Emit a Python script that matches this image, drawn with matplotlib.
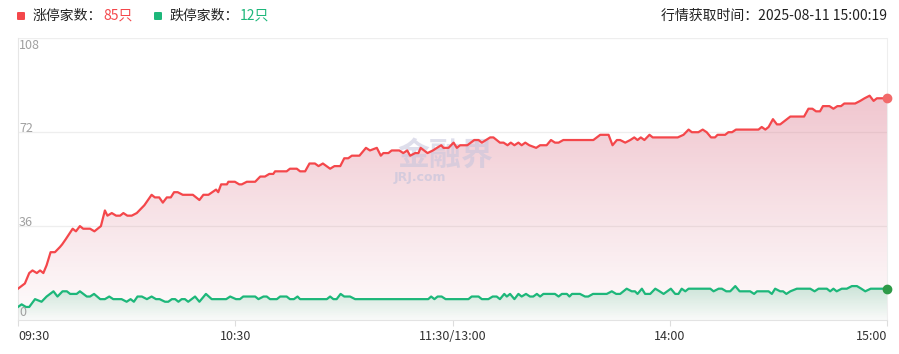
import numpy as np
import matplotlib
matplotlib.use("Agg")
import matplotlib.pyplot as plt
from matplotlib.patches import FancyBboxPatch

plt.rcParams["font.family"] = ["Noto Sans CJK SC", "DejaVu Sans"]
plt.rcParams["axes.unicode_minus"] = False

# minutes since 09:30 (trading minutes, lunch break removed) and counts
UP_T = [0, 1.9, 3.1, 4.0, 5.2, 6.1, 7.0, 7.9, 9.0, 10.2, 11.6, 12.2, 13.2, 15.1, 16.0, 17.1, 18.0,
        19.9, 21.1, 22.9, 24.0, 24.7, 25.9, 27.1, 28.2, 29.1, 30.2, 31.4, 32.8, 34.9, 36.9, 37.8,
        39.0, 40.0, 41.1, 42.2, 43.1, 44.1, 45.5, 48.3, 50.1, 51.2, 52.6, 54.7, 55.3, 56.1, 57.7,
        58.1, 59.9, 61.1, 61.8, 63.2, 65.5, 66.9, 68.2, 69.4, 70.5, 71.0, 74.2, 75.1, 77.0, 77.9,
        79.3, 80.5, 82.0, 83.0, 84.2, 86.2, 87.4, 89.0, 90.1, 91.2, 92.2, 94.3, 96.1, 97.2, 99.1,
        100.2, 100.9, 102.3, 103.2, 105.3, 106.4, 107.5, 108.3, 109.7, 110.6, 111.2, 113.1, 114.6,
        115.7, 116.9, 117.5, 118.9, 120.3, 121.2, 122.1, 124.1, 126.0, 127.2, 128.1, 130.4, 131.3,
        133.1, 134.1, 135.2, 136.1, 137.1, 138.2, 139.1, 140.1, 141.2, 143.1, 144.2, 146.0, 147.2,
        148.3, 149.3, 150.6, 158.9, 160.8, 161.7, 163.1, 164.2, 165.4, 166.3, 167.7, 169.1, 170.2,
        171.1, 172.0, 173.0, 174.4, 175.3, 182.2, 183.8, 185.2, 186.1, 187.9, 189.1, 190.2, 191.4,
        192.5, 193.2, 195.3, 196.2, 197.2, 198.3, 204.5, 205.4, 206.4, 207.3, 208.5, 209.6, 210.5,
        213.3, 217.1, 218.3, 219.4, 220.4, 221.5, 222.3, 224.1, 225.2, 226.3, 227.3, 228.2, 231.2,
        232.6, 233.8, 235.2, 236.3, 237.2, 240]
UP_V = [12, 14, 18, 19, 18, 19, 18, 21, 26, 26, 28, 29, 31, 35, 34, 36, 35,
        35, 34, 36, 42, 40, 41, 40, 40, 41, 40, 40, 41, 44, 48, 47,
        47, 45, 47, 47, 49, 49, 48, 48, 46, 48, 48, 50, 49, 52, 52,
        53, 53, 52, 52, 53, 53, 55, 55, 56, 56, 57, 57, 58, 58, 57,
        57, 60, 60, 59, 60, 58, 59, 59, 62, 62, 63, 63, 66, 65, 66,
        63, 64, 64, 65, 65, 64, 65, 63, 64, 64, 66, 64, 65,
        66, 67, 66, 66, 68, 66, 67, 67, 69, 69, 68, 70, 70,
        68, 68, 67, 68, 67, 68, 67, 68, 67, 66, 67, 67, 69,
        68, 68, 69, 69, 71, 71, 71, 67, 69, 69, 68, 69, 70,
        69, 70, 69, 71, 70, 70, 71, 73, 72, 72, 73, 72, 70,
        70, 71, 71, 72, 72, 73, 73, 74, 73, 74, 77, 75, 75,
        78, 78, 81, 81, 80, 80, 82, 82, 81, 82, 82, 83, 83,
        84, 85, 86, 84, 85, 85]

DOWN_T = [0, 1.0, 2.2, 3.1, 4.7, 6.5, 7.9, 9.8, 10.9, 12.3, 13.5, 14.4, 16.2, 17.1, 19.0, 19.9,
          21.0, 22.7, 24.0, 25.2, 26.3, 28.6, 30.0, 31.1, 32.0, 33.0, 34.2, 35.6, 36.9, 38.1, 39.1,
          40.6, 41.5, 42.5, 43.4, 44.3, 45.2, 46.1, 47.0, 48.9, 50.1, 51.9, 53.5, 57.5, 58.6, 60.2,
          61.3, 62.2, 65.5, 66.4, 67.8, 68.7, 69.6, 71.5, 72.4, 74.2, 75.1, 76.2, 77.2, 77.9, 85.3,
          86.2, 87.1, 88.0, 89.1, 90.1, 91.7, 93.1, 113.3, 114.1, 115.0, 115.9, 117.0, 118.1, 124.4,
          125.3, 127.2, 128.1, 129.9, 131.1, 132.2, 133.1, 134.3, 135.0, 135.9, 137.1, 138.2, 139.1,
          140.3, 141.4, 142.3, 143.3, 144.2, 145.1, 148.3, 149.3, 150.2, 151.6, 152.3, 153.0, 155.2,
          156.6, 157.5, 158.8, 160.8, 162.6, 164.0, 165.2, 166.3, 168.1, 169.5, 170.4, 171.1, 172.3,
          173.2, 174.6, 176.0, 177.2, 178.3, 180.3, 181.5, 182.4, 183.3, 184.3, 185.2, 191.2, 192.1,
          193.5, 194.4, 195.6, 196.7, 198.1, 199.3, 202.2, 203.3, 204.1, 207.3, 208.2, 209.1, 210.5,
          211.3, 212.2, 213.3, 215.1, 218.8, 220.0, 221.1, 223.4, 224.3, 225.2, 226.1, 227.5, 228.9,
          230.3, 231.7, 232.9, 234.0, 235.5, 240]
DOWN_V = [5, 6, 5, 5, 8, 7, 9, 11, 9, 11, 11, 10, 10, 11, 9, 9,
          10, 8, 8, 9, 8, 8, 7, 8, 7, 9, 9, 8, 9, 8, 8,
          7, 7, 8, 8, 7, 8, 8, 7, 9, 7, 10, 8, 8, 9, 8,
          8, 9, 9, 8, 9, 9, 8, 8, 9, 9, 8, 8, 9, 8, 8,
          9, 8, 8, 10, 9, 9, 8, 8, 9, 8, 9, 9, 8, 8,
          9, 9, 8, 8, 9, 9, 8, 10, 9, 10, 8, 10, 9,
          10, 9, 9, 10, 9, 10, 10, 9, 10, 10, 9, 10, 10,
          9, 9, 10, 10, 10, 11, 10, 10, 12, 11, 11, 10, 12,
          10, 10, 12, 11, 10, 12, 10, 10, 12, 11, 12, 12, 11,
          12, 12, 11, 11, 13, 11, 11, 10, 11, 11, 10, 12, 11,
          11, 10, 11, 12, 12, 11, 12, 12, 11, 12, 11, 12, 12,
          13, 13, 12, 11, 12, 12]

X_TICKS = [0, 60, 120, 180, 240]
X_LABELS = ["09:30", "10:30", "11:30/13:00", "14:00", "15:00"]
Y_TICKS = [0, 36, 72, 108]

UP_COLOR = "#f4474b"
DOWN_COLOR = "#1db77a"
UP_FILL = (0.86, 0.47, 0.55)
DOWN_FILL = (0.12, 0.67, 0.43)


def gradient_fill(ax, t, v, rgb, a_top, a_bottom, zorder):
    poly = ax.fill_between(t, v, 0, facecolor="none", linewidth=0)
    img = np.zeros((256, 1, 4))
    img[:, 0, :3] = rgb
    img[:, 0, 3] = np.linspace(a_top, a_bottom, 256)
    im = ax.imshow(img, extent=[t[0], t[-1], 0, max(v)], origin="upper",
                   aspect="auto", zorder=zorder, interpolation="bilinear")
    im.set_clip_path(poly.get_paths()[0], transform=ax.transData)


fig = plt.figure(figsize=(8.99, 3.54), dpi=100)
fig.patch.set_facecolor("white")
ax = fig.add_axes([18 / 899, 1 - 320 / 354, 869 / 899, (320 - 38.3) / 354])
ax.set_facecolor("white")

gradient_fill(ax, UP_T, UP_V, UP_FILL, 0.42, 0.02, 1)
gradient_fill(ax, DOWN_T, DOWN_V, DOWN_FILL, 0.22, 0.02, 2)

ax.plot(UP_T, UP_V, color=UP_COLOR, linewidth=1.6, zorder=4, solid_joinstyle="round")
ax.plot(DOWN_T, DOWN_V, color=DOWN_COLOR, linewidth=1.6, zorder=4, solid_joinstyle="round")
ax.plot([UP_T[-1]], [UP_V[-1]], "o", color="#f26a6a", markersize=6, zorder=5, clip_on=False)
ax.plot([DOWN_T[-1]], [DOWN_V[-1]], "o", color="#2e9a48", markersize=6, zorder=5, clip_on=False)

# faint watermark
ax.text(118, 63, "金融界", fontsize=23, fontweight="bold", color="#c4c4dc", alpha=0.55,
        ha="center", va="center", zorder=3)
ax.text(111, 54.5, "JRJ.com", fontsize=9, fontweight="bold", color="#c4c4dc", alpha=0.65,
        ha="center", va="center", zorder=3, family="DejaVu Sans")

ax.set_xlim(0, 240)
ax.set_ylim(0, 108)
for y in Y_TICKS[1:]:
    ax.axhline(y, color="#eeeeee", linewidth=0.9, zorder=0)

ax.spines["top"].set_visible(False)
ax.spines["left"].set_color("#e6e6e6")
ax.spines["right"].set_color("#eeeeee")
ax.spines["bottom"].set_color("#e3e3e3")

ax.set_yticks([])
ax.set_xticks(X_TICKS)
ax.set_xticklabels(X_LABELS)
ax.tick_params(axis="x", length=4, color="#dddddd", labelsize=9, labelcolor="#333333", pad=3)
labels = ax.get_xticklabels()
labels[0].set_ha("left")
labels[-1].set_ha("right")

# y labels inside the plot
y_va = {0: "bottom", 36: "center", 72: "center", 108: "top"}
for y in Y_TICKS:
    ax.text(0.3, y + (1.5 if y in (36, 72) else (0.5 if y == 0 else -0.3)), str(y),
            fontsize=9, color="#a0a0a0", ha="left", va=y_va[y], zorder=6)


# header
def px(x, y):
    return x / 899, 1 - y / 354


for x0, col in [(17, UP_COLOR), (154, DOWN_COLOR)]:
    box = FancyBboxPatch(px(x0, 20), 8 / 899, 8 / 354, boxstyle="round,pad=0,rounding_size=0.002",
                         transform=fig.transFigure, facecolor=col, edgecolor="none")
    fig.patches.append(box)

fig.text(*px(33, 16), "涨停家数：", fontsize=10, color="#222222", va="center", ha="left")
fig.text(*px(103, 16), "85只", fontsize=10, color=UP_COLOR, va="center", ha="left")
fig.text(*px(170, 16), "跌停家数：", fontsize=10, color="#222222", va="center", ha="left")
fig.text(*px(240, 16), "12只", fontsize=10, color=DOWN_COLOR, va="center", ha="left")
fig.text(*px(887, 16), "行情获取时间：2025-08-11 15:00:19", fontsize=10, color="#222222",
         va="center", ha="right")

fig.savefig("out.png", dpi=100, facecolor="white")
